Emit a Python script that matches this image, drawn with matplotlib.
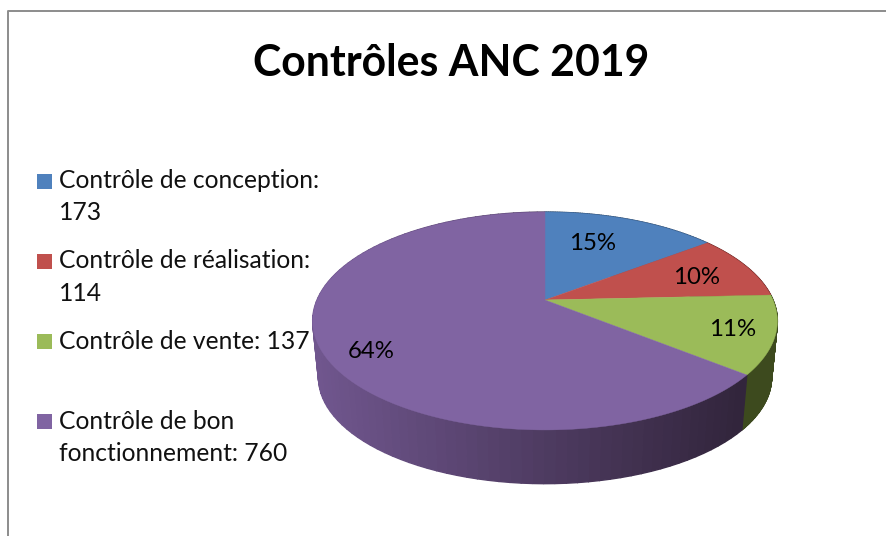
import numpy as np
from matplotlib import pyplot as plt

TITLE = 'Contrôles ANC 2019'
names = ['Contrôle de conception:', 'Contrôle de réalisation:', 'Contrôle de vente:', 'Contrôle de bon\nfonctionnement:']
values = [173, 114, 137, 760]
pct_labels = ['15%', '10%', '11%', '64%']
colors = ['#4f81bd', '#c0504d', '#9bbb59', '#8064a2']
wall_colors = ['#2f4d71', '#73302e', '#3d4a1e', None]

CX, CY = 545, 300
A, B, P = 228.0, 104.9, 0.1927
DEPTH, SHRINK = 57, 0.975


def project(theta, scale=1.0, dy=0):
    # theta runs clockwise from the top of the pie, perspective view
    x = np.sin(theta)
    y = np.cos(theta)
    d = 1 + P * y
    return CX + scale * A * x / d, CY + dy - scale * B * y / d


plt.rcParams['font.family'] = ['Lato', 'DejaVu Sans']
fig = plt.figure(figsize=(8.86, 5.36), dpi=100)
ax = fig.add_axes([0, 0, 1, 1])
ax.set_xlim(0, 886)
ax.set_ylim(536, 0)
ax.axis('off')

# chart frame
ax.plot([8.5, 8.5, 886], [536, 10.5, 10.5], color='#8c8c8c', lw=1.4, zorder=1)

edges = 2 * np.pi * np.concatenate([[0], np.cumsum(values)]) / sum(values)

# side wall, cut in thin strips for the shading
for i in range(len(values)):
    th = np.linspace(edges[i], edges[i + 1], 100)
    for t0, t1 in zip(th[:-1], th[1:]):
        seg = np.array([t0, t1])
        x1, y1 = project(seg)
        x2, y2 = project(seg[::-1], SHRINK, DEPTH)
        if wall_colors[i] is None:
            f = np.interp(x1.mean(), [315, 545, 740], [0, 0.55, 1])
            c = np.array([112, 86, 142]) * (1 - f) + np.array([50, 37, 60]) * f
            c = c / 255
        else:
            c = wall_colors[i]
        ax.fill(np.r_[x1, x2], np.r_[y1, y2], color=c, lw=1.0, zorder=2)

# top of the pie
for i in range(len(values)):
    th = np.linspace(edges[i], edges[i + 1], 200)
    x, y = project(th)
    ax.fill(np.r_[CX, x], np.r_[CY, y], color=colors[i], lw=0.3, zorder=3)

# percent labels
pct_xy = [(593, 243), (697, 277), (733, 329), (371, 351)]
for lab, (x, y) in zip(pct_labels, pct_xy):
    ax.text(x, y, lab, fontsize=17.3, color='black', ha='center', va='center', zorder=4)

ax.text(451, 63, TITLE, fontsize=30.8, fontweight='bold', ha='center', va='center')

# legend
for i, (name, v) in enumerate(zip(names, values)):
    ty = 181 + i * 80.3
    ax.fill([37, 52, 52, 37], [ty - 7.5, ty - 7.5, ty + 7.5, ty + 7.5], color=colors[i], lw=0)
    if i < 2:
        label = f'{name}\n{v}'
    else:
        label = f'{name} {v}'
    ax.text(59, ty - 12, label, fontsize=17.7, va='top', ha='left', color='#111111', linespacing=1.5)

fig.savefig('out.png', dpi=100)
